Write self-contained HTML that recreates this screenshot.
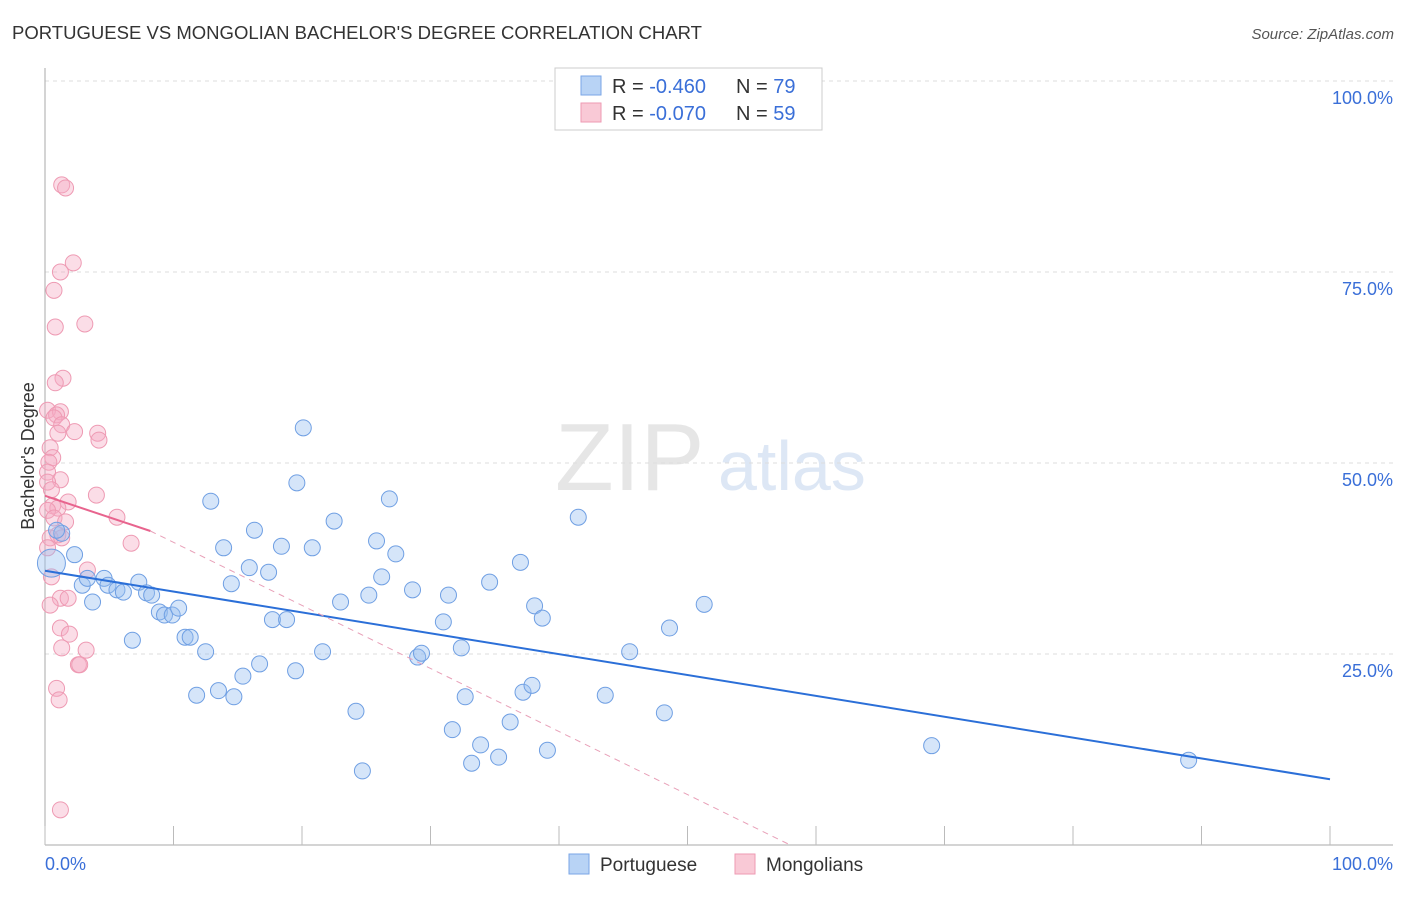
<!DOCTYPE html>
<html><head><meta charset="utf-8"><style>
body{margin:0;background:#fff;font-family:"Liberation Sans",sans-serif;}
svg text{font-family:"Liberation Sans",sans-serif;}
</style></head><body>
<svg id="chart" width="1406" height="892">
<text x="12" y="39" font-size="18" fill="#333" textLength="690" lengthAdjust="spacingAndGlyphs">PORTUGUESE VS MONGOLIAN BACHELOR'S DEGREE CORRELATION CHART</text>
<text x="1394" y="39" font-size="15" fill="#555" text-anchor="end" font-style="italic">Source: ZipAtlas.com</text>
<text x="555" y="490" font-size="96" fill="#e6e6e6" font-family="Liberation Serif">ZIP</text>
<text x="718" y="490" font-size="70" fill="#dde7f5">atlas</text>
<text transform="translate(34,456) rotate(-90)" font-size="18" fill="#333" text-anchor="middle">Bachelor's Degree</text>
<g id="grid"></g><g id="pts"></g><g id="trend"></g>
<g>
<rect x="555" y="68" width="267" height="62" fill="#fff" stroke="#ccc"/>
<rect x="581" y="76" width="20" height="19" fill="#b8d3f5" stroke="#7aa6e6"/>
<rect x="581" y="103" width="20" height="19" fill="#f9c9d6" stroke="#ee9ab3"/>
<text x="612" y="93" font-size="20" fill="#333">R = <tspan fill="#3a6fd8">-0.460</tspan></text>
<text x="736" y="93" font-size="20" fill="#333">N = <tspan fill="#3a6fd8">79</tspan></text>
<text x="612" y="120" font-size="20" fill="#333">R = <tspan fill="#3a6fd8">-0.070</tspan></text>
<text x="736" y="120" font-size="20" fill="#333">N = <tspan fill="#3a6fd8">59</tspan></text>
</g>
<g>
<rect x="569" y="854" width="20" height="20" fill="#b8d3f5" stroke="#7aa6e6"/>
<text x="600" y="871" font-size="19" fill="#333">Portuguese</text>
<rect x="735" y="854" width="20" height="20" fill="#f9c9d6" stroke="#ee9ab3"/>
<text x="766" y="871" font-size="19" fill="#333">Mongolians</text>
</g>
</svg>
<script>
const yTicks=[25,50,75,100];
const yTickLabels=["25.0%","50.0%","75.0%","100.0%"];
const xTicks=[0,10,20,30,40,50,60,70,80,90,100];
const xTickLabels=["0.0%","100.0%"];
const portX=[0.5,1.3,0.9,2.3,2.9,3.3,3.7,4.6,4.9,5.6,6.1,6.8,7.3,7.9,8.3,8.9,9.3,9.9,10.4,10.9,11.3,11.8,12.5,12.9,13.5,13.9,14.5,14.7,15.4,15.9,16.3,16.7,17.4,17.7,18.4,18.8,19.5,19.6,20.1,20.8,21.6,22.5,23.0,24.2,24.7,25.2,25.8,26.2,26.8,27.3,28.6,29.0,29.3,31.0,31.4,31.7,32.4,32.7,33.2,33.9,34.6,35.3,36.2,37.0,37.2,37.9,38.1,38.7,39.1,41.5,43.6,45.5,48.2,48.6,51.3,69.0,89.0];
const portY=[36.9,40.8,41.2,38.0,34.0,34.9,31.8,34.9,34.0,33.4,33.1,26.8,34.4,33.0,32.7,30.5,30.1,30.1,31.0,27.2,27.2,19.6,25.3,45.0,20.2,38.9,34.2,19.4,22.1,36.3,41.2,23.7,35.7,29.5,39.1,29.5,22.8,47.4,54.6,38.9,25.3,42.4,31.8,17.5,9.7,32.7,39.8,35.1,45.3,38.1,33.4,24.6,25.1,29.2,32.7,15.1,25.8,19.4,10.7,13.1,34.4,11.5,16.1,37.0,20.0,20.9,31.3,29.7,12.4,42.9,19.6,25.3,17.3,28.4,31.5,13.0,11.1];
const monX=[1.3,1.6,2.2,1.2,0.7,3.1,0.8,1.4,0.8,0.2,1.2,0.9,0.7,1.3,2.3,4.1,4.2,1.0,0.4,0.6,0.3,0.2,1.2,0.2,0.5,4.0,1.8,0.6,1.0,0.2,0.7,1.6,5.6,1.0,0.4,1.3,6.7,0.2,3.3,0.5,1.2,1.8,0.4,1.2,1.9,1.3,3.2,2.6,2.7,0.9,1.1,1.2];
const monY=[86.4,86.0,76.2,75.0,72.6,68.2,67.8,61.1,60.5,56.9,56.7,56.3,55.9,55.0,54.1,53.9,53.0,53.9,52.0,50.7,50.1,48.8,47.8,47.5,46.5,45.8,44.9,44.4,44.1,43.8,42.8,42.3,42.9,40.6,40.2,40.2,39.5,38.9,36.0,35.1,32.3,32.3,31.4,28.4,27.6,25.8,25.5,23.6,23.6,20.5,19.0,4.6];
const portTrend=[35.9,8.6];
const monTrendSolid=[45.7,41.1,8.2];
const monTrendDashEndX=58;
const NS="http://www.w3.org/2000/svg";
const X=v=>45+v*12.85, Y=v=>845-v*7.64;
function mk(t,a,p){const e=document.createElementNS(NS,t);for(const k in a)e.setAttribute(k,a[k]);p.appendChild(e);return e;}
const grid=document.getElementById('grid');
yTicks.forEach((t,i)=>{
 const l=mk('line',{x1:45,x2:1393,y1:Y(t),y2:Y(t),stroke:'#ddd','stroke-dasharray':'4,4'},grid);
 
 
 const tx=mk('text',{x:1393,y:Y(t)+23,'font-size':18,fill:'#3a6fd8','text-anchor':'end'},grid);
 tx.textContent=yTickLabels[i];
 
 
});
mk('line',{x1:45,x2:45,y1:68,y2:845,stroke:'#aaa'},grid);
mk('line',{x1:45,x2:1393,y1:845,y2:845,stroke:'#aaa'},grid);
xTicks.forEach(t=>{
 const l=mk('line',{x1:X(t),x2:X(t),y1:826,y2:845,stroke:'#bbb'},grid);
 
 
});
const xl0=mk('text',{x:45,y:870,'font-size':18,fill:'#3a6fd8'},grid);xl0.textContent=xTickLabels[0];


const xl1=mk('text',{x:1393,y:870,'font-size':18,fill:'#3a6fd8','text-anchor':'end'},grid);xl1.textContent=xTickLabels[1];


const pts=document.getElementById('pts');
monX.forEach((v,i)=>{
 const c=mk('circle',{cx:X(v),cy:Y(monY[i]),r:8,fill:'rgba(245,170,195,0.4)',stroke:'#ee9ab3','stroke-width':1},pts);
 
 
});
portX.forEach((v,i)=>{
 const c=mk('circle',{cx:X(v),cy:Y(portY[i]),r:i==0?14:8,fill:'rgba(150,190,240,0.4)',stroke:'#6f9fe3','stroke-width':1},pts);
 
 
});
const tr=document.getElementById('trend');
const pl=mk('line',{x1:X(0),y1:Y(portTrend[0]),x2:X(100),y2:Y(portTrend[1]),stroke:'#2b6fd8','stroke-width':2},tr);


const md=mk('line',{x1:X(monTrendSolid[2]),y1:Y(monTrendSolid[1]),x2:X(monTrendDashEndX),y2:Y(0),stroke:'#e8a0b8','stroke-width':1,'stroke-dasharray':'6,5'},tr);


const ms=mk('line',{x1:X(0),y1:Y(monTrendSolid[0]),x2:X(monTrendSolid[2]),y2:Y(monTrendSolid[1]),stroke:'#e8648e','stroke-width':2},tr);


</script>
</body></html>
